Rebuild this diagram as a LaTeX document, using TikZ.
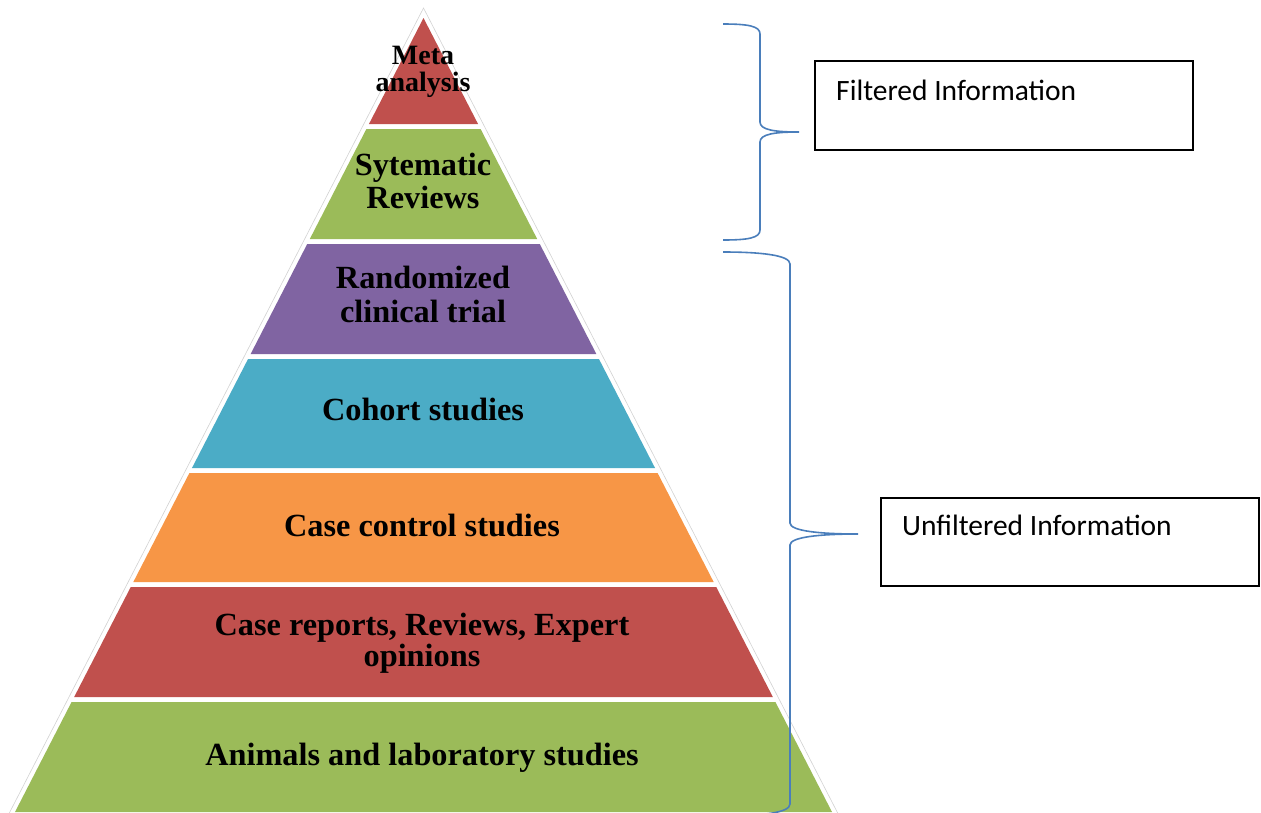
\documentclass[tikz,border=0pt]{standalone}
\usepackage{fontspec}
\setmainfont{Liberation Serif}
\newfontfamily\calib{Carlito}
\definecolor{cred}{HTML}{C0504D}
\definecolor{cgreen}{HTML}{9BBB59}
\definecolor{cpurple}{HTML}{8064A2}
\definecolor{ccyan}{HTML}{4BACC6}
\definecolor{corange}{HTML}{F79646}
\definecolor{cblue}{HTML}{4A7EBB}
\newcommand\pyrband[3]{%
  \fill[#3] ({423.5-0.5145*(#1-18)},#1) -- ({423.5+0.5145*(#1-18)},#1)
    -- ({423.5+0.5145*(#2-18)},#2) -- ({423.5-0.5145*(#2-18)},#2) -- cycle;}
\begin{document}
\begin{tikzpicture}[x=1pt,y=-1pt,
  lvl/.style={font=\bfseries\fontsize{32.3}{33}\selectfont, align=center, anchor=base, inner sep=0pt},
  brace/.style={draw=cblue, line width=1.6pt},
  infobox/.style={draw=black, line width=1.2pt, fill=white, inner sep=0pt},
  infotext/.style={font=\calib\fontsize{29.5}{31}\selectfont, anchor=base west, inner sep=0pt}]
\useasboundingbox (0,0) rectangle (1261,812);
\clip (0,0) rectangle (1261,812);
\fill[white] (0,0) rectangle (1261,812);
% outer faint outline
\draw[gray!35, line width=0.6pt] (423.5,8) -- ({423.5+0.5145*830},838) -- ({423.5-0.5145*830},838) -- cycle;
% bands
\pyrband{18}{124}{cred}
\pyrband{129}{239}{cgreen}
\pyrband{244}{354}{cpurple}
\pyrband{359}{468}{ccyan}
\pyrband{473}{582}{corange}
\pyrband{587}{697}{cred}
\pyrband{702}{812}{cgreen}
% labels (base anchor = baseline of last line)
\node[lvl, font=\bfseries\fontsize{28}{27}\selectfont] (meta) at (423,91) {Meta\\analysis};
\node[lvl] (sys) at (423,208) {Sytematic\\Reviews};
\node[lvl, font=\bfseries\fontsize{32.3}{34}\selectfont] (rct) at (423,322) {Randomized\\clinical trial};
\node[lvl] (cohort) at (423,420) {Cohort studies};
\node[lvl] (cc) at (422,536) {Case control studies};
\node[lvl, font=\bfseries\fontsize{32.3}{31}\selectfont] (cr) at (422,666) {Case reports, Reviews, Expert\\opinions};
\node[lvl] (anim) at (422,765) {Animals and laboratory studies};
% boxes
\node[infobox, minimum width=378pt, minimum height=89pt] (fbox) at (1004,105.5) {};
\node[infotext] (ftext) at (836,100) {Filtered Information};
\node[infobox, minimum width=378pt, minimum height=88pt] (ubox) at (1070,542) {};
\node[infotext] (utext) at (902,535) {Unfiltered Information};
% braces
\coordinate (ftip) at (799,132);
\coordinate (utip) at (858,534);
\draw[brace] (723,24) .. controls (748,24) and (760,26) .. (760,34) -- (760,122)
  .. controls (760,130) and (775,132) .. (ftip)
  .. controls (775,132) and (760,134) .. (760,142) -- (760,230)
  .. controls (760,238) and (748,240) .. (723,240);
\draw[brace] (723,252) .. controls (760,252) and (790,255) .. (790,264) -- (790,523)
  .. controls (790,531) and (820,534) .. (utip)
  .. controls (820,534) and (790,537) .. (790,545) -- (790,804)
  .. controls (790,813) and (760,816) .. (723,816);
\end{tikzpicture}
\end{document}
